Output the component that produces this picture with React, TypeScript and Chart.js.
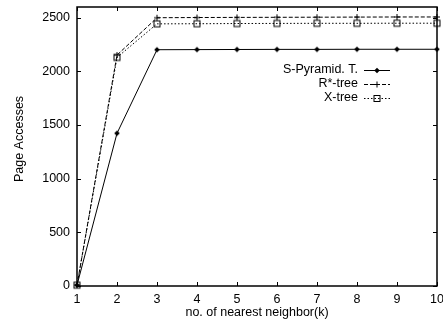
import React, { useEffect, useRef } from 'react';
import { Chart, registerables } from 'chart.js';

Chart.register(...registerables);

// k = number of nearest neighbours requested
const kValues = [1, 2, 3, 4, 5, 6, 7, 8, 9, 10];

// Page accesses per index structure
const pyramidAccesses = [8, 1423, 2202, 2203, 2204, 2205, 2205, 2206, 2206, 2206];
const rstarAccesses = [8, 2152, 2500, 2502, 2503, 2504, 2505, 2506, 2507, 2507];
const xtreeAccesses = [8, 2130, 2443, 2444, 2446, 2447, 2448, 2448, 2449, 2449];

const seriesNames = ['S-Pyramid. T.', 'R*-tree', 'X-tree'];
const yTickValues = [0, 500, 1000, 1500, 2000, 2500];
const xTitle = 'no. of nearest neighbor(k)';
const yTitle = 'Page Accesses';

const FONT = '"Liberation Sans", Arial, Helvetica, sans-serif';
const FONT_SIZE = 12.5;

type Marker = 'diamond' | 'plus' | 'square';
const markers: Marker[] = ['diamond', 'plus', 'square'];
const dashes: number[][] = [[], [4, 2], [1.5, 2]];

function drawMarker(ctx: CanvasRenderingContext2D, kind: Marker, x: number, y: number) {
  ctx.save();
  ctx.setLineDash([]);
  ctx.strokeStyle = '#000';
  ctx.fillStyle = '#000';
  ctx.lineWidth = 1;
  if (kind === 'diamond') {
    const r = 2.8;
    ctx.beginPath();
    ctx.moveTo(x, y - r);
    ctx.lineTo(x + r, y);
    ctx.lineTo(x, y + r);
    ctx.lineTo(x - r, y);
    ctx.closePath();
    ctx.fill();
  } else if (kind === 'plus') {
    const r = 3;
    ctx.beginPath();
    ctx.moveTo(x - r, y);
    ctx.lineTo(x + r, y);
    ctx.moveTo(x, y - r);
    ctx.lineTo(x, y + r);
    ctx.stroke();
  } else {
    const r = 3;
    ctx.strokeRect(x - r, y - r, 2 * r, 2 * r);
  }
  ctx.restore();
}

// Frame, inward tick marks, axis titles and the key
const framePlugin = {
  id: 'gnuplotFrame',
  beforeDatasetsDraw(chart: any) {
    const { ctx, chartArea: a, scales } = chart;
    ctx.save();
    ctx.strokeStyle = '#000';
    ctx.lineWidth = 1;
    const tick = 4;
    ctx.beginPath();
    for (const v of kValues) {
      const px = Math.round(scales.x.getPixelForValue(v)) + 0.5;
      ctx.moveTo(px, a.bottom);
      ctx.lineTo(px, a.bottom - tick);
      ctx.moveTo(px, a.top);
      ctx.lineTo(px, a.top + tick);
    }
    for (const v of yTickValues) {
      const py = Math.round(scales.y.getPixelForValue(v)) + 0.5;
      ctx.moveTo(a.left, py);
      ctx.lineTo(a.left + tick, py);
      ctx.moveTo(a.right, py);
      ctx.lineTo(a.right - tick, py);
    }
    ctx.stroke();
    ctx.lineWidth = 1.5;
    ctx.strokeRect(a.left, a.top, a.right - a.left, a.bottom - a.top);
    ctx.restore();
  },
  afterDraw(chart: any) {
    const { ctx, chartArea: a } = chart;
    ctx.save();
    ctx.fillStyle = '#000';
    ctx.font = `${FONT_SIZE}px ${FONT}`;

    // axis titles
    ctx.textAlign = 'center';
    ctx.textBaseline = 'middle';
    ctx.fillText(xTitle, (a.left + a.right) / 2, 313);
    ctx.save();
    ctx.translate(20, 139);
    ctx.rotate(-Math.PI / 2);
    ctx.fillText(yTitle, 0, 0);
    ctx.restore();

    // key
    const textRight = 358;
    const lineL = 364;
    const lineR = 390;
    const rows = [70, 84, 97.5];
    chart.data.datasets.forEach((ds: any, i: number) => {
      const y = rows[i];
      ctx.textAlign = 'right';
      ctx.textBaseline = 'middle';
      ctx.fillText(ds.label, textRight, y);
      ctx.save();
      ctx.strokeStyle = '#000';
      ctx.lineWidth = 1;
      ctx.setLineDash(dashes[i]);
      ctx.beginPath();
      ctx.moveTo(lineL, Math.round(y) + 0.5);
      ctx.lineTo(lineR, Math.round(y) + 0.5);
      ctx.stroke();
      ctx.restore();
      drawMarker(ctx, markers[i], (lineL + lineR) / 2, Math.round(y) + 0.5);
    });
    ctx.restore();
  },
};

// Point markers for the plotted series
const pointMarker = (kind: Marker) => {
  const size = 10;
  const c = document.createElement('canvas');
  c.width = size;
  c.height = size;
  const g = c.getContext('2d')!;
  drawMarker(g, kind, size / 2, size / 2);
  return c;
};

export default function App() {
  const canvasRef = useRef<HTMLCanvasElement | null>(null);

  useEffect(() => {
    if (!canvasRef.current) return;
    const series = [pyramidAccesses, rstarAccesses, xtreeAccesses];
    const chart = new Chart(canvasRef.current, {
      type: 'line',
      data: {
        datasets: series.map((vals, i) => ({
          label: seriesNames[i],
          data: kValues.map((k, j) => ({ x: k, y: vals[j] })),
          borderColor: '#000',
          borderWidth: 1,
          borderDash: dashes[i],
          pointStyle: pointMarker(markers[i]),
          pointRadius: 3,
          pointHoverRadius: 3,
          fill: false,
          tension: 0,
          clip: false as any,
        })),
      },
      plugins: [framePlugin],
      options: {
        animation: false,
        responsive: false,
        events: [],
        layout: { padding: { top: 7, right: 6, left: 0, bottom: 0 } },
        plugins: {
          legend: { display: false },
          tooltip: { enabled: false },
        },
        scales: {
          x: {
            type: 'linear',
            min: 1,
            max: 10,
            grid: { display: false, drawTicks: false },
            border: { display: false },
            ticks: {
              stepSize: 1,
              padding: 6,
              color: '#000',
              maxRotation: 0,
              autoSkip: false,
              font: { family: FONT, size: FONT_SIZE },
              callback: (v: any) => String(v),
            },
            afterFit(scale: any) {
              scale.height = 38;
              scale.paddingLeft = 0;
              scale.paddingRight = 0;
            },
          },
          y: {
            type: 'linear',
            min: 0,
            max: 2600,
            grid: { display: false, drawTicks: false },
            border: { display: false },
            afterBuildTicks(scale: any) {
              scale.ticks = yTickValues.map((v) => ({ value: v }));
            },
            ticks: {
              padding: 7,
              color: '#000',
              font: { family: FONT, size: FONT_SIZE },
              callback: (v: any) => String(v),
            },
            afterFit(scale: any) {
              scale.width = 77;
              scale.paddingTop = 0;
              scale.paddingBottom = 0;
            },
          },
        },
      },
    });
    return () => chart.destroy();
  }, []);

  return (
    <div style={{ position: 'fixed', left: 0, top: 0, width: 443, height: 324, background: '#fff' }}>
      <canvas ref={canvasRef} width={443} height={324} style={{ display: 'block' }} />
    </div>
  );
}
